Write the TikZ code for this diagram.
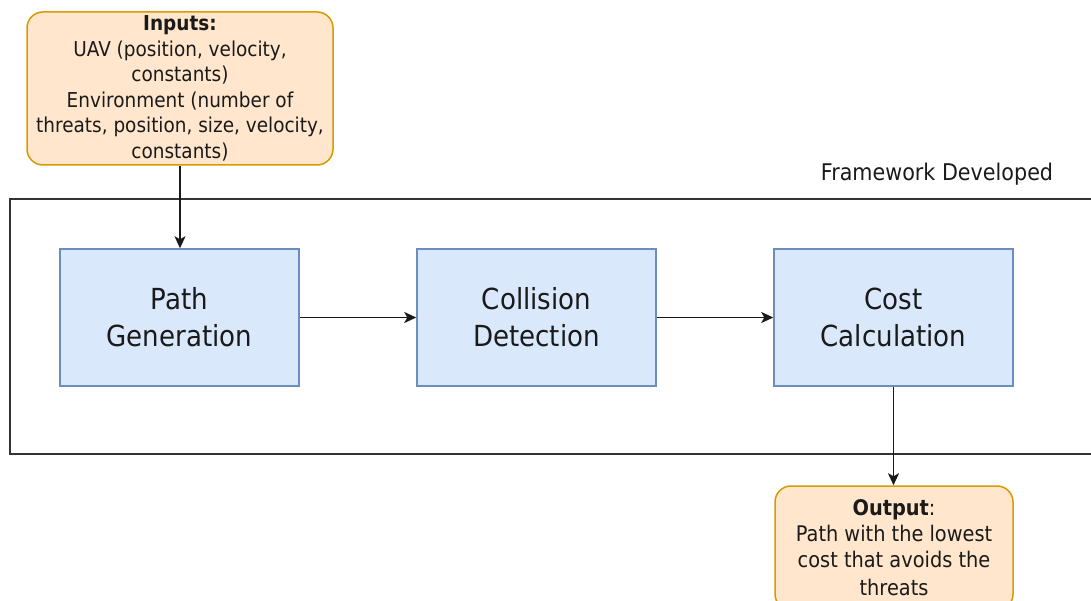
\documentclass[tikz,border=0pt]{standalone}
\usepackage{fontspec}
\setmainfont{DejaVu Sans}[FakeStretch=0.9]
\usetikzlibrary{arrows.meta}
\definecolor{orfill}{HTML}{FFE6CC}
\definecolor{ordraw}{HTML}{D79B00}
\definecolor{blfill}{HTML}{DAE8FC}
\definecolor{bldraw}{HTML}{6C8EBF}
\definecolor{txt}{HTML}{1A1A1A}
\tikzset{
  iobox/.style={draw=ordraw, fill=orfill, line width=1.5pt, rounded corners=16pt,
    align=center, text=txt, inner sep=0pt},
  procbox/.style={draw=bldraw, fill=blfill, line width=1.5pt, align=center, text=txt,
    minimum width=239pt, minimum height=137pt, inner sep=0pt,
    font=\fontsize{29}{37}\selectfont},
  framebox/.style={draw=black!80, line width=1.5pt, inner sep=0pt},
  arr/.style={draw=black!90, line width=1.8pt, -{Stealth[length=12pt,width=11pt,inset=3pt]}},
  lbl/.style={text=txt, font=\fontsize{23}{27}\selectfont, inner sep=0pt}
}
\begin{document}
\begin{tikzpicture}[x=1pt,y=-1pt]
\useasboundingbox (0,0) rectangle (1091,601);
\clip (0,0) rectangle (1091,601);
\node[framebox, minimum width=1090pt, minimum height=255pt] (frame) at (555,326.5) {};
\node[lbl] (flabel) at (937,174) {Framework Developed};
\node[iobox, minimum width=306pt, minimum height=153pt, font=\fontsize{20.5}{25.5}\selectfont] (inputs) at (180,88.5)
  {\textbf{Inputs:}\\UAV (position, velocity,\\constants)\\Environment (number of\\threats, position, size, velocity,\\constants)};
\node[procbox] (pg) at (179.5,317.5) {Path\\Generation};
\node[procbox] (cd) at (536.5,317.5) {Collision\\Detection};
\node[procbox] (cc) at (893.5,317.5) {Cost\\Calculation};
\node[iobox, minimum width=238pt, minimum height=124pt, font=\fontsize{21.5}{26}\selectfont] (out) at (894,548)
  {\textbf{Output}:\\Path with the lowest\\cost that avoids the\\[2pt]threats};
\draw[arr] (inputs.south) -- (inputs.south |- pg.north);
\draw[arr] (pg.east) -- (cd.west);
\draw[arr] (cd.east) -- (cc.west);
\draw[arr] (cc.south) -- (cc.south |- out.north);
\end{tikzpicture}
\end{document}
